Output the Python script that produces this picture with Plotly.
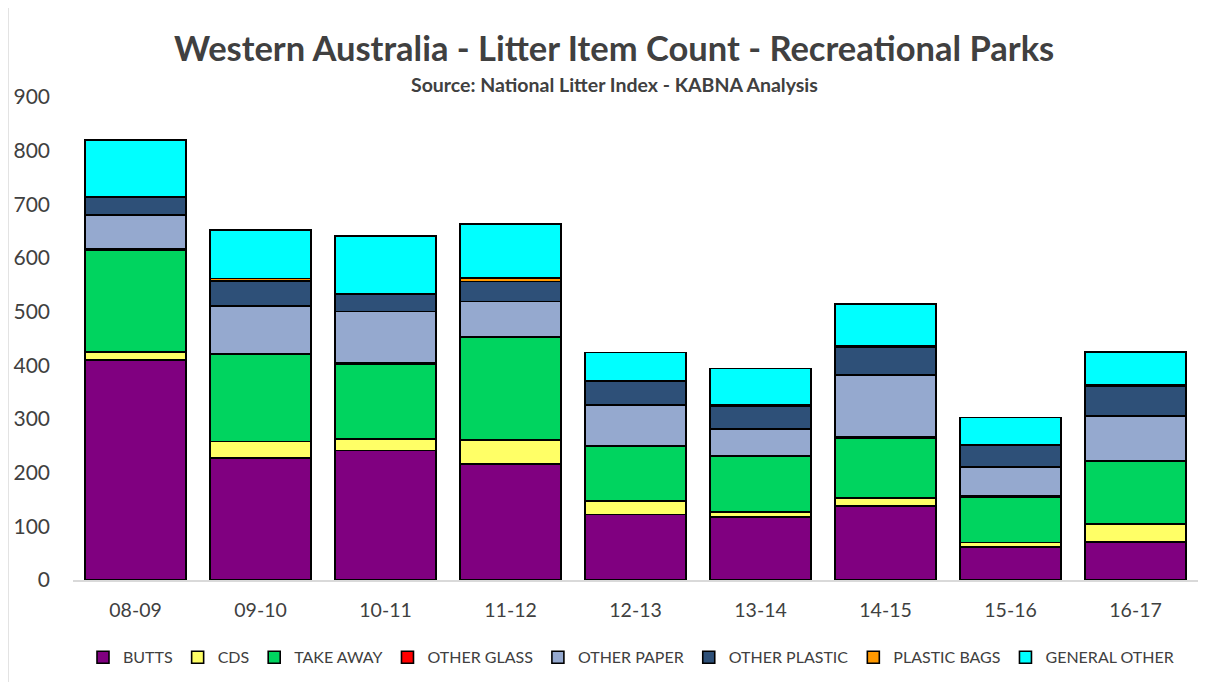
import plotly.graph_objects as go

years = ["08-09", "09-10", "10-11", "11-12", "12-13", "13-14", "14-15", "15-16", "16-17"]
butts = [410, 227, 241, 216, 122, 117, 138, 62, 71]
cds = [15, 31, 22, 45, 25, 10, 15, 8, 33]
take_away = [190, 163, 139, 191, 103, 103, 111, 85, 118]
other_glass = [3, 1, 3, 1, 1, 1, 3, 1, 1]
other_paper = [62, 89, 95, 66, 75, 50, 115, 55, 83]
other_plastic = [33, 46, 32, 37, 44, 43, 52, 40, 55]
plastic_bags = [1, 5, 1, 7, 1, 2, 3, 1, 2]
general_other = [106, 90, 108, 100, 53, 68, 77, 51, 62]

series = [
    ("BUTTS", butts, "#800080"),
    ("CDS", cds, "#FFFF66"),
    ("TAKE AWAY", take_away, "#00D45F"),
    ("OTHER GLASS", other_glass, "#FF0000"),
    ("OTHER PAPER", other_paper, "#95A9CF"),
    ("OTHER PLASTIC", other_plastic, "#2E5078"),
    ("PLASTIC BAGS", plastic_bags, "#FF9900"),
    ("GENERAL OTHER", general_other, "#00FFFF"),
]

font_family = "Lato, 'Open Sans', sans-serif"
text_color = "#404040"

fig = go.Figure()
for name, vals, color in series:
    fig.add_trace(go.Bar(
        name=name, x=years, y=vals,
        marker=dict(color=color, line=dict(color="#000000", width=1.6)),
    ))

fig.update_layout(
    barmode="stack",
    bargap=0.19,
    width=1211, height=674,
    margin=dict(l=65, r=21, t=89, b=102, autoexpand=False),
    paper_bgcolor="white",
    plot_bgcolor="white",
    font=dict(family=font_family, color=text_color),
    showlegend=True,
    legend=dict(
        orientation="h", x=0.496, xanchor="center", y=-0.16, yanchor="middle",
        font=dict(size=16, color=text_color),
        traceorder="normal",
        itemwidth=30,
    ),
    xaxis=dict(
        type="category",
        showline=True, linecolor="#D9D9D9", linewidth=1.5,
        tickfont=dict(size=19.5, color=text_color),
        ticks="", showgrid=False, ticklabelstandoff=12,
    ),
    yaxis=dict(
        range=[0, 900], dtick=100, showgrid=False, zeroline=False,
        showline=False, tickfont=dict(size=21, color=text_color),
        ticks="", ticklabelstandoff=22,
    ),
    annotations=[
        dict(text="<b>Western Australia - Litter Item Count - Recreational Parks</b>",
             xref="paper", yref="paper", x=0.481, y=1.1035, xanchor="center", yanchor="middle",
             showarrow=False, font=dict(size=34.5, color=text_color, family=font_family)),
        dict(text="<b>Source: National Litter Index - KABNA Analysis</b>",
             xref="paper", yref="paper", x=0.481, y=1.025, xanchor="center", yanchor="middle",
             showarrow=False, font=dict(size=19.5, color=text_color, family=font_family)),
    ],
    shapes=[
        dict(type="line", xref="paper", yref="paper",
             x0=-0.0578, x1=-0.0578, y0=-0.25, y1=1.25,
             line=dict(color="#D9D9D9", width=1.5)),
    ],
)

fig.write_html("out.html")
